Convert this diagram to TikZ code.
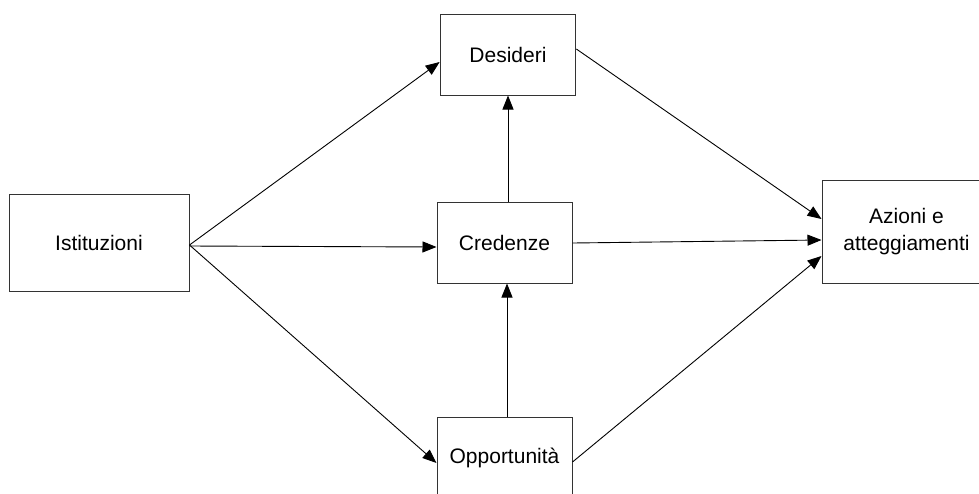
\documentclass[tikz,border=0pt]{standalone}
\usepackage{fontspec}
\setmainfont{Liberation Sans}
\usetikzlibrary{arrows.meta}
\begin{document}
\begin{tikzpicture}[x=1pt,y=-1pt,
  box/.style={draw=black!80,line width=1pt,fill=white,rectangle,inner sep=0pt,
    align=center,font=\fontsize{21}{26.5}\selectfont},
  link/.style={line width=0.9pt,-{Triangle[length=14pt,width=11pt]}}]
\clip (0,0) rectangle (979,493);
\fill[white] (0,0) rectangle (979,493);

\node[box,minimum width=180pt,minimum height=97pt] (ist) at (99,242.5) {Istituzioni};
\node[box,minimum width=135.7pt,minimum height=81pt] (des) at (508,54.5) {Desideri};
\node[box,minimum width=135pt,minimum height=81pt] (cre) at (504.5,242.5) {Credenze};
\node[box,minimum width=135pt,minimum height=82pt] (opp) at (504.5,458) {Opportunità};
\node[box,minimum width=169pt,minimum height=103pt] (azi) at (906.5,231.5) {Azioni e\\atteggiamenti};

% from Istituzioni
\draw[link] ([yshift=-2.5pt]ist.east) -- ([yshift=-7.5pt]des.west);
\draw[link] ([yshift=-3.5pt]ist.east) -- ([yshift=-4.5pt]cre.west);
\draw[link] ([yshift=-2.5pt]ist.east) -- ([yshift=-5pt]opp.west);

% vertical links
\draw[link] ([xshift=3.5pt]cre.north) -- (des.south);
\draw[link] ([xshift=2.5pt]opp.north) -- ([xshift=2.5pt]cre.south);

% into Azioni e atteggiamenti
\draw[link] ([yshift=5.5pt]des.east) -- ([yshift=12.5pt]azi.west);
\draw[link] ([yshift=-0.5pt]cre.east) -- ([yshift=-8.5pt]azi.west);
\draw[link] ([yshift=-4pt]opp.east) -- ([yshift=-24.5pt]azi.west);
\end{tikzpicture}
\end{document}
